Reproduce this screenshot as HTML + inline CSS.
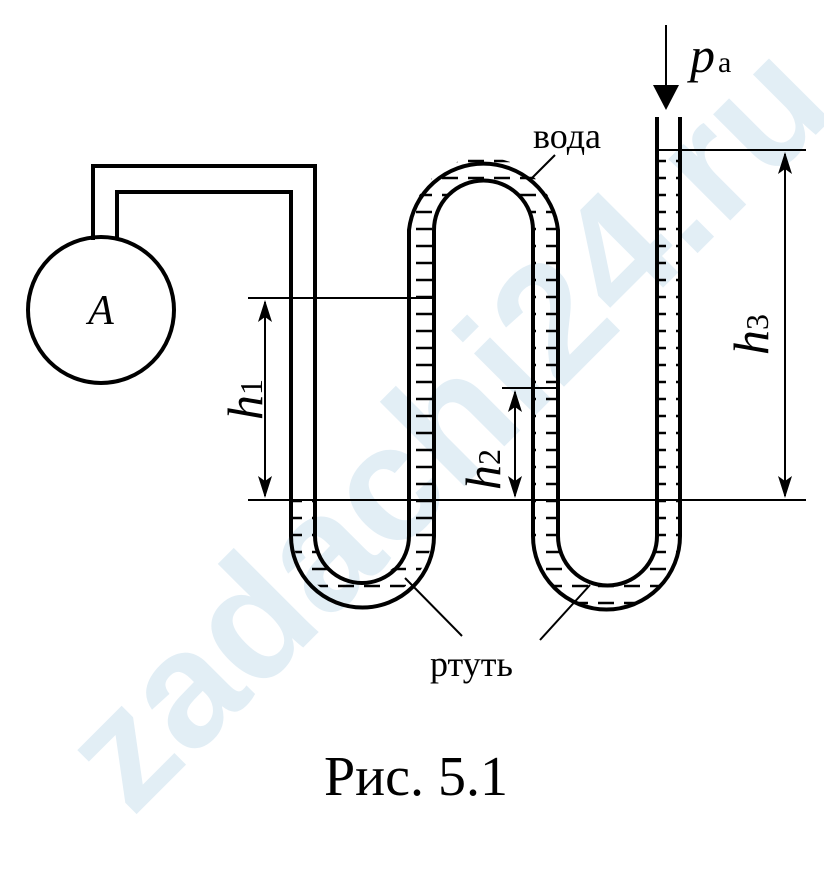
<!DOCTYPE html>
<html><head><meta charset="utf-8"><style>
html,body{margin:0;padding:0;background:#fff}
svg{display:block}
</style></head><body>
<svg width="824" height="870" viewBox="0 0 824 870" xmlns="http://www.w3.org/2000/svg" font-family="Liberation Serif, serif">
<defs>
<pattern id="hash" patternUnits="userSpaceOnUse" width="26" height="17">
<line x1="0" y1="8" x2="16" y2="8" stroke="#000" stroke-width="2.5"/>
</pattern>
</defs>
<g opacity="0.6" transform="translate(450,430) rotate(-45)">
<text x="0" y="50" text-anchor="middle" style="font-family:'Liberation Sans',sans-serif;font-weight:bold" font-size="165" fill="#cfe3f0">zadachi24.ru</text>
</g>
<path d="M303,500 V536 A59.5 59.5 0 0 0 421.5,536 V230 A62 62 0 0 1 545.5,230 V536 A61.5 61.5 0 0 0 668.5,536 V150" fill="none" stroke="url(#hash)" stroke-width="22"/>
<g fill="none" stroke="#000" stroke-width="4">
<circle cx="101" cy="310" r="73"/>
<path d="M117,238 V192 H291 V536 A71.5 71.5 0 0 0 434,536 V230 A49.5 49.5 0 0 1 533,230 V536 A73.5 73.5 0 0 0 680,536 V117"/>
<path d="M93,240 V166 H315 V536 A47 47 0 0 0 409,536 V230 A75 75 0 0 1 558,230 V536 A49.5 49.5 0 0 0 657,536 V117"/>
</g>
<g stroke="#000" stroke-width="2" fill="none">
<line x1="248" y1="298" x2="433" y2="298"/>
<line x1="248" y1="500" x2="806" y2="500"/>
<line x1="502" y1="388" x2="558" y2="388"/>
<line x1="657" y1="150" x2="806" y2="150"/>
<line x1="265" y1="302" x2="265" y2="496"/>
<line x1="515" y1="392" x2="515" y2="496"/>
<line x1="785" y1="154" x2="785" y2="496"/>
<line x1="666" y1="25" x2="666" y2="90"/>
<line x1="530" y1="180" x2="555" y2="155"/>
<line x1="462" y1="636" x2="405" y2="578"/>
<line x1="540" y1="640" x2="590" y2="585"/>
</g>
<g fill="#000">
<path d="M265,300 l-7,22 l7,-5 l7,5z"/><path d="M265,498 l-7,-22 l7,5 l7,-5z"/>
<path d="M515,390 l-7,22 l7,-5 l7,5z"/><path d="M515,498 l-7,-22 l7,5 l7,-5z"/>
<path d="M785,152 l-7,22 l7,-5 l7,5z"/><path d="M785,498 l-7,-22 l7,5 l7,-5z"/>
<path d="M653,85 L679,85 L666,110z"/>
</g>
<text x="101" y="324" text-anchor="middle" font-size="42" font-style="italic">A</text>
<text x="690" y="72" font-size="50" font-style="italic">p</text>
<text x="718" y="72" font-size="30">a</text>
<text x="533" y="148" font-size="36">вода</text>
<text x="430" y="676" font-size="36">ртуть</text>
<text x="416" y="795" text-anchor="middle" font-size="56">Рис. 5.1</text>
<text transform="translate(262,420) rotate(-90)" font-size="50" font-style="italic">h<tspan font-style="normal" font-size="32">1</tspan></text>
<text transform="translate(500,490) rotate(-90)" font-size="50" font-style="italic">h<tspan font-style="normal" font-size="32">2</tspan></text>
<text transform="translate(768,355) rotate(-90)" font-size="50" font-style="italic">h<tspan font-style="normal" font-size="32">3</tspan></text>
</svg>
</body></html>
